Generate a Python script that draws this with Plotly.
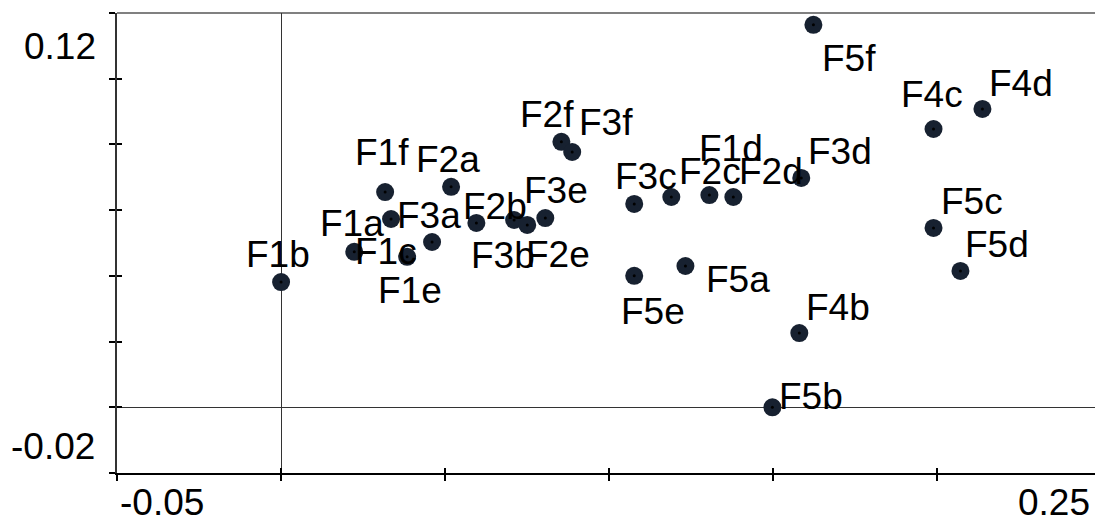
import plotly.graph_objects as go

# ---- data ----
labels = ["F1b", "F1a", "F1c", "F1f", "F1e", "F3a", "F2a", "F2b", "F3b", "F2e",
          "F3e", "F2f", "F3f", "F3c", "F2c", "F1d", "F2d", "F5e", "F5a", "F5b",
          "F4b", "F3d", "F5f", "F4c", "F5c", "F5d", "F4d"]
x_vals = [0.0000, 0.0223, 0.0335, 0.0317, 0.0384, 0.0460, 0.0518, 0.0595, 0.0710, 0.0750,
          0.0805, 0.0854, 0.0887, 0.1076, 0.1189, 0.1305, 0.1378, 0.1076, 0.1232, 0.1497,
          0.1579, 0.1585, 0.1622, 0.1988, 0.1988, 0.2070, 0.2137]
y_vals = [0.0381, 0.0473, 0.0573, 0.0655, 0.0458, 0.0503, 0.0671, 0.0561, 0.0570, 0.0555,
          0.0576, 0.0808, 0.0777, 0.0619, 0.0640, 0.0646, 0.0640, 0.0400, 0.0430, 0.0000,
          0.0226, 0.0698, 0.1164, 0.0847, 0.0546, 0.0415, 0.0908]

x_tick_text = ["-0.05", "0.25"]
y_tick_text = ["0.12", "-0.02"]

# label placement offsets in pixels (dx right, dy down) relative to the point
label_dx = [-3, -2, -5, -3, 3, -3, -3, 19, -11, 31,
            11, -14, 34, 12, 39, 22, 38, 19, 53, 39,
            39, 39, 36, -2, 38, 37, 39]
label_dy = [-31, -31, 29, -43, 31, -30, -30, -19, 32, 27,
            -31, -30, -32, -30, -29, -50, -29, 33, 10, -14,
            -29, -29, 31, -37, -29, -29, -28]

FONT = "Liberation Sans, Arial, sans-serif"
FS = 37
CAP_ADJ = 3  # shift to center cap height instead of text box

fig = go.Figure()
fig.add_trace(go.Scatter(x=x_vals, y=y_vals, mode="markers",
                         marker=dict(size=18, color="#172130", line=dict(width=0)),
                         hoverinfo="text", text=labels, showlegend=False))
fig.add_trace(go.Scatter(x=x_vals, y=y_vals, mode="markers",
                         marker=dict(size=3, color="#000000", line=dict(width=0)),
                         hoverinfo="skip", showlegend=False))
# invisible trace on inside-tick axes
fig.add_trace(go.Scatter(x=[x_vals[0]], y=[y_vals[0]], mode="markers",
                         marker=dict(size=1, opacity=0), xaxis="x2", yaxis="y2",
                         hoverinfo="skip", showlegend=False))

annotations = []
for lab, xv, yv, dx, dy in zip(labels, x_vals, y_vals, label_dx, label_dy):
    annotations.append(dict(x=xv, y=yv, xref="x", yref="y", text=lab, showarrow=False,
                            xanchor="center", yanchor="middle",
                            xshift=dx, yshift=-dy - CAP_ADJ,
                            font=dict(family=FONT, size=FS, color="black")))

# axis end labels
annotations += [
    dict(x=0.001, y=-0.113, xref="paper", yref="paper", text=x_tick_text[0], showarrow=False,
         xanchor="left", yanchor="bottom", font=dict(family=FONT, size=FS, color="black")),
    dict(x=0.997, y=-0.113, xref="paper", yref="paper", text=x_tick_text[1], showarrow=False,
         xanchor="right", yanchor="bottom", font=dict(family=FONT, size=FS, color="black")),
    dict(x=-0.0194, y=0.9337, xref="paper", yref="paper", text=y_tick_text[0], showarrow=False,
         xanchor="right", yanchor="middle", yshift=-CAP_ADJ, font=dict(family=FONT, size=FS, color="black")),
    dict(x=-0.0204, y=0.0641, xref="paper", yref="paper", text=y_tick_text[1], showarrow=False,
         xanchor="right", yanchor="middle", yshift=-CAP_ADJ, font=dict(family=FONT, size=FS, color="black")),
]

xr = [-0.05, 0.248]
yr = [-0.02, 0.12]

fig.update_layout(
    width=1095, height=526,
    margin=dict(l=117, r=0, t=13, b=53),
    paper_bgcolor="white", plot_bgcolor="white",
    annotations=annotations,
    xaxis=dict(range=xr, tick0=-0.05, dtick=0.05, ticks="outside", ticklen=6, tickwidth=2,
               tickcolor="black", showticklabels=False, showline=True, linecolor="black",
               linewidth=1.5, showgrid=False, zeroline=True, zerolinecolor="#333333",
               zerolinewidth=1),
    yaxis=dict(range=yr, tick0=-0.02, dtick=0.02, ticks="outside", ticklen=6, tickwidth=2,
               tickcolor="black", showticklabels=False, showline=True, linecolor="#333333",
               linewidth=1.5, showgrid=False, zeroline=True, zerolinecolor="#333333",
               zerolinewidth=1),
    xaxis2=dict(range=xr, overlaying="x", anchor="y", side="bottom", tick0=-0.05, dtick=0.05,
                ticks="inside", ticklen=5, tickwidth=2, tickcolor="black",
                showticklabels=False, showline=False, showgrid=False, zeroline=False),
    yaxis2=dict(range=yr, overlaying="y", anchor="x", side="left", tick0=-0.02, dtick=0.02,
                ticks="inside", ticklen=5, tickwidth=2, tickcolor="black",
                showticklabels=False, showline=False, showgrid=False, zeroline=False),
    shapes=[dict(type="line", xref="paper", yref="paper", x0=0, x1=1, y0=1, y1=1,
                 line=dict(color="#808080", width=2), layer="below")],
    hovermode="closest",
)

fig.write_html("out.html", config={"displayModeBar": False},
               post_script="document.body.style.margin='0';document.body.style.overflow='hidden';")
